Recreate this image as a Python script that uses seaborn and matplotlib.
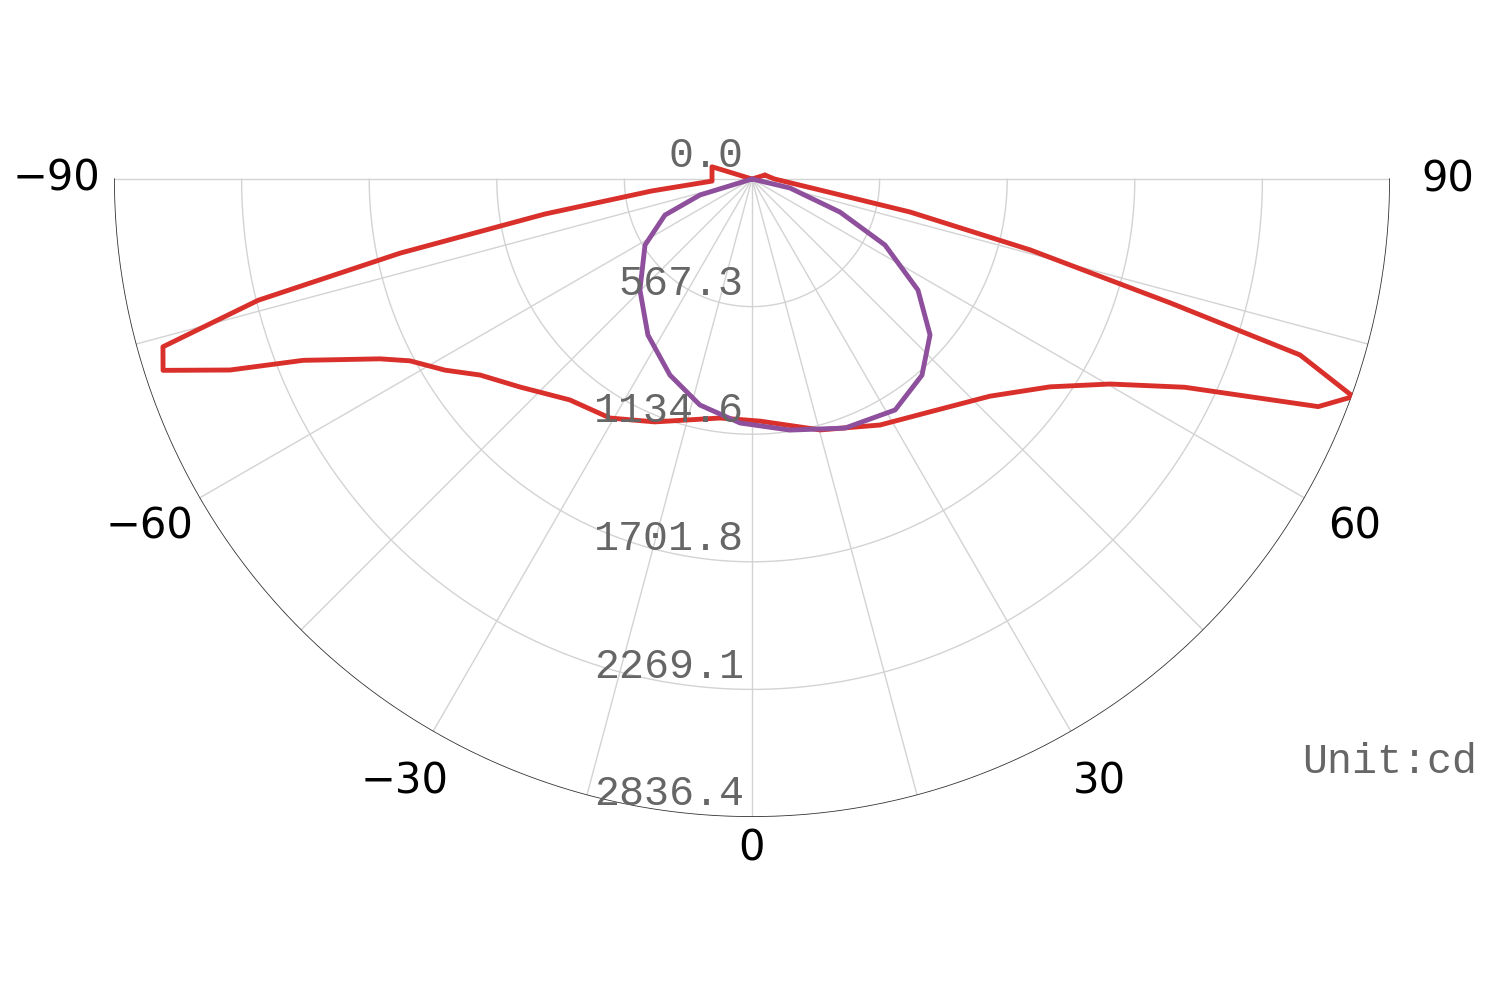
import numpy as np
import matplotlib
matplotlib.use("Agg")
import matplotlib.pyplot as plt
import seaborn as sns

sns.set_style("white")

# ---- data (angle in degrees, 0 = straight down; intensity in cd) ----
red_angle = [107, 0, -107, -87, -83.2, -80.4, -78.1, -76.2, -74.1, -72.0, -69.9, -68.0,
             -64.2, -62.0, -58.1, -54.2, -48.1, -39.5, -30.7, -21.8, -7.6, 1.9, 15.2,
             27.5, 37.4, 47.6, 55.1, 60.2, 64.3, 68.1, 70.1, 72.2, 73.5, 75.7, 78.2,
             80.8, 90, 107]
red_value = [60, 0, 186, 178, 448, 934, 1599, 2261, 2723, 2753, 2471, 2152,
             1837, 1722, 1608, 1490, 1385, 1273, 1236, 1163, 1072, 1077, 1156,
             1233, 1303, 1432, 1615, 1834, 2135, 2713, 2842, 2559, 1939, 1276, 718,
             306, 100, 60]

purple_angle = [-90, -72.9, -67.5, -58.3, -45.3, -33.7, -22.7, -13.0, -2.8, 8.6, 20.5,
                31.8, 40.9, 48.8, 56.2, 63.6, 69.4, 76.7, 90]
purple_value = [0, 242, 419, 559, 701, 834, 945, 1031, 1086, 1129, 1182,
                1208, 1154, 1052, 888, 660, 418, 173, 0]

ring_values = [0.0, 567.3, 1134.6, 1701.8, 2269.1, 2836.4]
angle_labels = [-90, -60, -30, 0, 30, 60, 90]
spoke_angles = list(range(-90, 91, 15))
rmax = ring_values[-1]

fig = plt.figure(figsize=(15, 10), dpi=100)
# full polar axes centred on the pivot; only the lower half is drawn
cx, cy, R = 752, 179, 638
ax = fig.add_axes([(cx - R) / 1500, (1000 - cy - R) / 1000, 2 * R / 1500, 2 * R / 1000],
                  projection="polar")
ax.set_theta_zero_location("S")
ax.set_ylim(0, rmax)
ax.grid(False)
ax.set_xticks([])
ax.set_yticks([])
ax.spines["polar"].set_visible(False)
ax.patch.set_visible(False)

arc = np.radians(np.linspace(-90, 90, 400))
for rv in ring_values[1:-1]:
    ax.plot(arc, np.full_like(arc, rv), color="#d3d3d3", lw=1, zorder=1)
for a in spoke_angles:
    ax.plot([np.radians(a)] * 2, [0, rmax], color="#d3d3d3", lw=1, zorder=1)
ax.plot(arc, np.full_like(arc, rmax), color="#333333", lw=1.2, zorder=2)

ax.plot(np.radians(red_angle), red_value, color="#d9302c", lw=3.5, zorder=3)
ax.plot(np.radians(purple_angle), purple_value, color="#8e4f9c", lw=3.5, zorder=4)

for rv in ring_values:
    ax.annotate(f"{rv:.1f}", xy=(0, rv), xytext=(-6, 2), textcoords="offset points",
                ha="right", va="bottom", fontsize=30, color="#666666",
                family="Liberation Mono", zorder=5)

for a in angle_labels:
    rr = rmax * (1.05 if a == 0 else 1.09)
    ax.text(np.radians(a), rr, f"{a}".replace("-", "\u2212"), ha="center", va="center",
            fontsize=30, color="black", family="DejaVu Sans", clip_on=False)

fig.text(1390 / 1500, 1 - 762 / 1000, "Unit:cd", ha="center", va="center",
         fontsize=30, color="#666666", family="Liberation Mono")

fig.savefig("out.png", dpi=100)
